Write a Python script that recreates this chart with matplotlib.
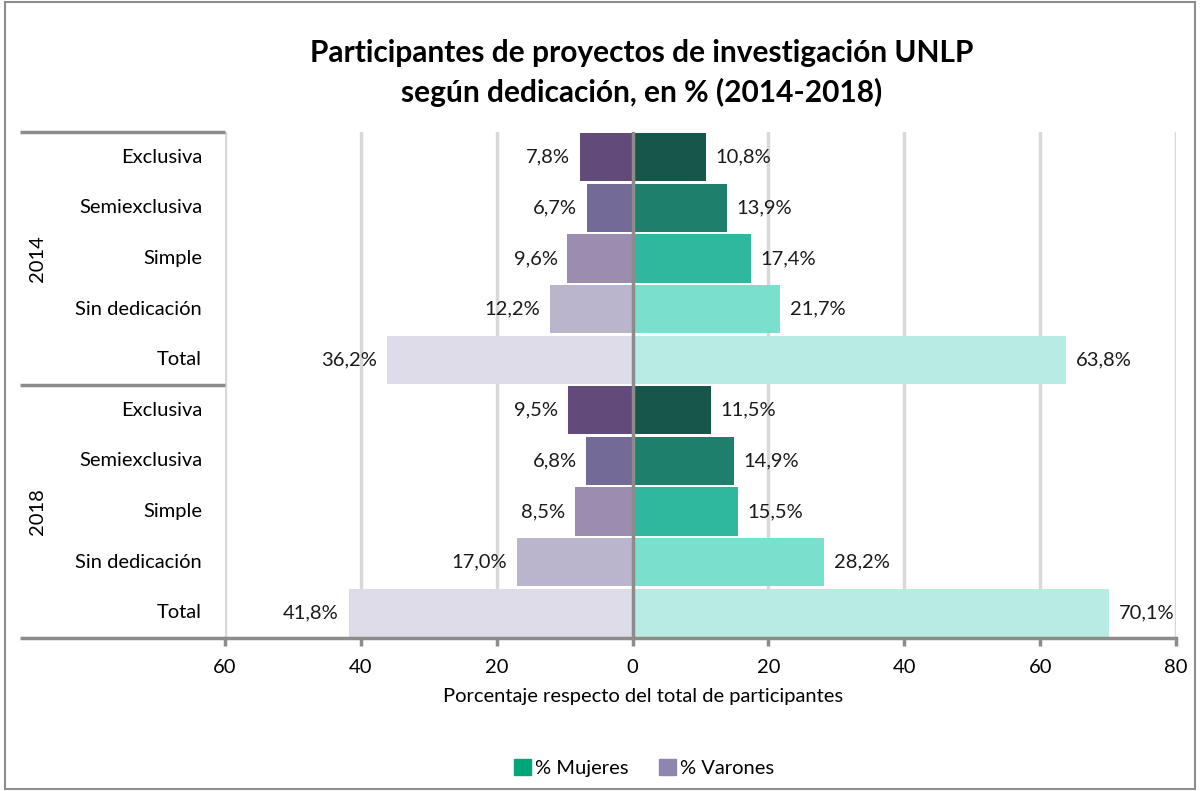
"""Participantes de proyectos de investigación UNLP según dedicación (2014-2018)."""

import matplotlib
matplotlib.use("Agg")
import matplotlib.pyplot as plt
from matplotlib.patches import Patch, Rectangle
import matplotlib.transforms as mtransforms

plt.rcParams["font.family"] = ["Lato", "DejaVu Sans"]

OUT = "out.png"

YEARS = ["2014", "2018"]
CATEGORIES = ["Exclusiva", "Semiexclusiva", "Simple", "Sin dedicación", "Total"]
# rows: 2014 (5 categories), then 2018 (5 categories)
MUJERES = [10.8, 13.9, 17.4, 21.7, 63.8, 11.5, 14.9, 15.5, 28.2, 70.1]
VARONES = [7.8, 6.7, 9.6, 12.2, 36.2, 9.5, 6.8, 8.5, 17.0, 41.8]

WOMEN_COLORS = ["#17574B", "#1F7F6D", "#2FB89E", "#7ADFCC", "#B8ECE3"]
MEN_COLORS = ["#624B7A", "#746A97", "#9A8DB0", "#BAB4CC", "#DEDCE8"]
GRID = "#D9D9D9"
AXIS = "#8C8C8C"
FS = 14.5


def fmt(v):
    return f"{v:.1f}%".replace(".", ",")


def main():
    fig = plt.figure(figsize=(12, 7.91), dpi=100)
    ax = fig.add_axes([0.1875, 0.1934, 0.7925, 0.6397])

    n = len(MUJERES)
    ys = list(range(n))
    wc = WOMEN_COLORS * len(YEARS)
    mc = MEN_COLORS * len(YEARS)

    ax.barh(ys, MUJERES, height=0.95, color=wc, zorder=2)
    ax.barh(ys, [-v for v in VARONES], height=0.95, color=mc, zorder=2)

    for y, m, v in zip(ys, MUJERES, VARONES):
        ax.annotate(fmt(m), (m, y), xytext=(7, 0), textcoords="offset points",
                    ha="left", va="center", fontsize=FS, color="#1a1a1a")
        ax.annotate(fmt(v), (-v, y), xytext=(-7, 0), textcoords="offset points",
                    ha="right", va="center", fontsize=FS, color="#1a1a1a")

    ax.set_xlim(-60, 80)
    ax.set_ylim(n - 0.5, -0.5)
    ticks = list(range(-60, 81, 20))
    ax.set_xticks(ticks)
    ax.set_xticklabels([str(abs(t)) for t in ticks], fontsize=FS)
    for t in ticks:
        ax.axvline(t, color=GRID, lw=2.5, zorder=1)
    ax.axvline(0, color=AXIS, lw=2.5, zorder=3)

    ax.set_yticks([])
    for s in ["top", "right", "left"]:
        ax.spines[s].set_visible(False)
    ax.spines["bottom"].set_color(AXIS)
    ax.spines["bottom"].set_linewidth(2.5)
    ax.tick_params(axis="x", length=6, width=2.5, color=AXIS, pad=9)
    ax.set_xlabel("Porcentaje respecto del total de participantes", fontsize=FS,
                  labelpad=9, x=0.44)

    # category labels and year grouping
    trans = mtransforms.blended_transform_factory(ax.transAxes, ax.transData)
    left = (20 - 225) / 951
    for y in ys:
        ax.text(-0.024, y, CATEGORIES[y % len(CATEGORIES)], transform=trans,
                ha="right", va="center", fontsize=FS)
    k = len(CATEGORIES)
    for i, yr in enumerate(YEARS):
        ax.text(-0.197, i * k + (k - 1) / 2, yr, transform=trans, rotation=90,
                ha="center", va="center", fontsize=FS)
    for yb in [-0.5, k - 0.5, n - 0.5]:
        ax.plot([left, 0], [yb, yb], transform=trans, color=AXIS, lw=2.5,
                clip_on=False, solid_capstyle="butt")

    fig.text(0.535, 0.908, "Participantes de proyectos de investigación UNLP\n"
             "según dedicación, en % (2014-2018)", ha="center", va="center",
             fontsize=21.5, fontweight="bold", linespacing=1.45)

    handles = [Patch(color="#00A67A", label="% Mujeres"),
               Patch(color="#8E86AE", label="% Varones")]
    fig.legend(handles=handles, loc="center", bbox_to_anchor=(0.537, 0.029),
               ncol=2, frameon=False, fontsize=FS, handlelength=0.85,
               handleheight=0.85, handletextpad=0.2, columnspacing=1.5)

    fig.patches.append(Rectangle((0.004, 0.003), 0.992, 0.994,
                                 transform=fig.transFigure, fill=False,
                                 edgecolor=AXIS, lw=1.5))

    fig.savefig(OUT, dpi=100)
    plt.close(fig)


if __name__ == "__main__":
    main()
